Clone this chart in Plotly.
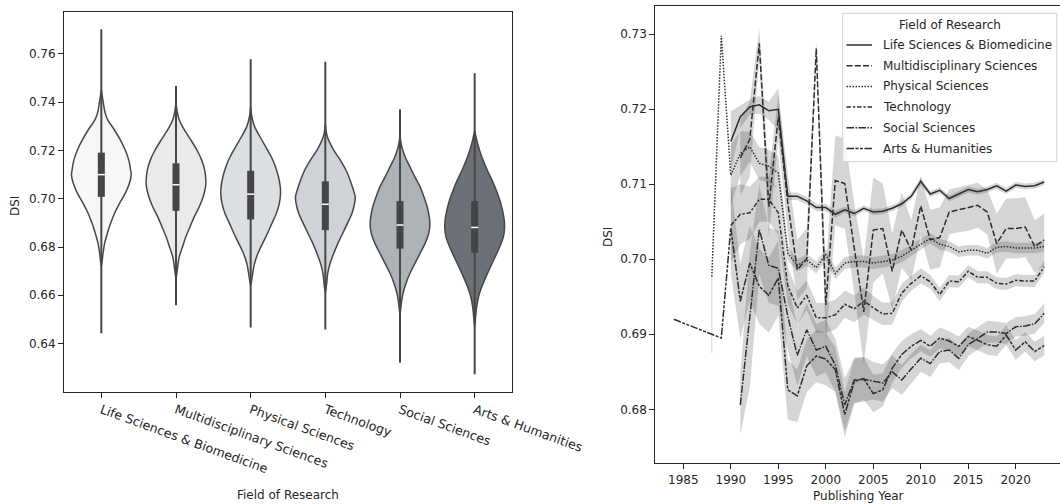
import plotly.graph_objects as go

W, H = 1060, 504

# ---------------- Left panel: distribution of DSI per field ----------------
fields = ["Life Sciences & Biomedicine", "Multidisciplinary Sciences", "Physical Sciences",
          "Technology", "Social Sciences", "Arts & Humanities"]
violin_colors = ["#f6f7f8", "#e9eaec", "#dcdfe2", "#cfd2d6", "#aeb3b8", "#6b7177"]

# density outline (DSI level, relative half-width; 1 = widest)
life_levels = [0.6720, 0.6773, 0.6815, 0.6856, 0.6898, 0.6939, 0.6981, 0.7022, 0.7064, 0.7098,
               0.7119, 0.7160, 0.7202, 0.7243, 0.7285, 0.7326, 0.7354, 0.7395, 0.7450]
life_width = [0, .056, .11, .20, .31, .44, .61, .80, .94, 1.0, .98, .92, .80, .64, .44, .22, .13, .07, 0]

multi_levels = [0.6670, 0.6718, 0.6760, 0.6801, 0.6842, 0.6884, 0.6925, 0.6967, 0.7008, 0.7050,
                0.7077, 0.7119, 0.7160, 0.7202, 0.7243, 0.7285, 0.7326, 0.7361, 0.7400]
multi_width = [0, .056, .11, .22, .33, .47, .61, .78, .91, .99, 1.0, .96, .86, .70, .50, .28, .11, .04, 0]

phys_levels = [0.6640, 0.6690, 0.6732, 0.6773, 0.6815, 0.6856, 0.6898, 0.6939, 0.6981, 0.7022,
               0.7050, 0.7091, 0.7133, 0.7174, 0.7216, 0.7257, 0.7299, 0.7340, 0.7380]
phys_width = [0, .067, .13, .24, .40, .56, .71, .86, .96, 1.0, .99, .93, .83, .69, .50, .31, .13, .04, 0]

tech_levels = [0.6610, 0.6649, 0.6690, 0.6732, 0.6773, 0.6815, 0.6856, 0.6898, 0.6939, 0.6981,
               0.7008, 0.7036, 0.7077, 0.7119, 0.7160, 0.7202, 0.7243, 0.7271, 0.7310]
tech_width = [0, .044, .078, .16, .28, .42, .58, .74, .89, .98, 1.0, .94, .83, .69, .50, .28, .11, .04, 0]

soc_levels = [0.6520, 0.6566, 0.6607, 0.6649, 0.6690, 0.6732, 0.6773, 0.6815, 0.6856, 0.6891,
              0.6925, 0.6967, 0.7008, 0.7050, 0.7091, 0.7133, 0.7174, 0.7216, 0.7260]
soc_width = [0, .044, .10, .20, .33, .50, .67, .84, .96, 1.0, .98, .91, .80, .67, .50, .33, .17, .06, 0]

arts_levels = [0.6470, 0.6511, 0.6552, 0.6594, 0.6635, 0.6677, 0.6718, 0.6760, 0.6801, 0.6842,
               0.6877, 0.6912, 0.6953, 0.6995, 0.7036, 0.7077, 0.7119, 0.7160, 0.7202, 0.7243, 0.7280]
arts_width = [0, .033, .067, .13, .24, .38, .53, .69, .84, .96, 1.0, .99, .93, .84, .72, .58, .42, .28,
              .16, .07, 0]

dsi_min = [0.6442, 0.6559, 0.6466, 0.6458, 0.6320, 0.6273]
dsi_q1 = [0.7008, 0.6950, 0.6914, 0.6870, 0.6793, 0.6776]
dsi_median = [0.7100, 0.7058, 0.7019, 0.6977, 0.6891, 0.6881]
dsi_q3 = [0.7191, 0.7147, 0.7116, 0.7072, 0.6990, 0.6990]
dsi_max = [0.7702, 0.7467, 0.7578, 0.7568, 0.7371, 0.7520]

# ---------------- Right panel: mean DSI per publishing year ----------------
life_years = list(range(1990, 2024))
life_mean = [0.7157, 0.7190, 0.7203, 0.7206, 0.7198, 0.7200, 0.7084, 0.7084, 0.7078, 0.7069,
             0.7069, 0.7060, 0.7066, 0.7061, 0.7068, 0.7063, 0.7064, 0.7068, 0.7074, 0.7084,
             0.7104, 0.7087, 0.7092, 0.7081, 0.7087, 0.7093, 0.7090, 0.7093, 0.7098, 0.7091,
             0.7099, 0.7097, 0.7098, 0.7103]
life_ci = [0.004, 0.0015, 0.001, 0.0012, 0.0012, 0.0028, 0.0005, 0.0005, 0.0005, 0.0005,
           0.0005, 0.0005, 0.0004, 0.0004, 0.0004, 0.0004, 0.0004, 0.0004, 0.0004, 0.0004,
           0.0005, 0.0004, 0.0004, 0.0004, 0.0004, 0.0004, 0.0004, 0.0004, 0.0004, 0.0004,
           0.0004, 0.0004, 0.0004, 0.0004]

multi_years = list(range(1991, 2024))
multi_mean = [0.7135, 0.7160, 0.7288, 0.7070, 0.7190, 0.7075, 0.6986, 0.7001, 0.7281, 0.6939,
              0.7105, 0.7101, 0.7015, 0.6930, 0.7039, 0.7041, 0.6984, 0.7039, 0.7012, 0.7071,
              0.7026, 0.7029, 0.7063, 0.7066, 0.7068, 0.7072, 0.7063, 0.7021, 0.7041, 0.7041,
              0.7043, 0.7017, 0.7026]
multi_ci = [0.005, 0.005, 0.002, 0.004, 0.003, 0.004, 0.004, 0.004, 0.001, 0.005,
            0.006, 0.006, 0.006, 0.007, 0.007, 0.006, 0.005, 0.005, 0.004, 0.004,
            0.004, 0.004, 0.003, 0.003, 0.003, 0.003, 0.003, 0.004, 0.004, 0.004,
            0.004, 0.0035, 0.0035]

phys_years = list(range(1988, 2024))
phys_mean = [0.6977, 0.7298, 0.7112, 0.7141, 0.7150, 0.7128, 0.7124, 0.7115, 0.7008, 0.6992,
             0.6999, 0.6989, 0.7006, 0.6981, 0.6995, 0.6997, 0.6997, 0.6995, 0.6997, 0.6999,
             0.7004, 0.7012, 0.7020, 0.7028, 0.7020, 0.7017, 0.7010, 0.7012, 0.7012, 0.7008,
             0.7016, 0.7017, 0.7015, 0.7015, 0.7015, 0.7017]
phys_ci = [(0.0102, 0.0), None, 0.004, 0.003, 0.002, 0.0022, 0.0022, 0.0022, 0.001, 0.0008,
           0.0008, 0.0008, 0.0008, 0.0008, 0.0008, 0.0008, 0.0008, 0.0008, 0.0008, 0.0008,
           0.0008, 0.0008, 0.0007, 0.0007, 0.0007, 0.0007, 0.0007, 0.0007, 0.0007, 0.0007,
           0.0007, 0.0007, 0.0007, 0.0007, 0.0007, 0.0007]

tech_years = list(range(1990, 2024))
tech_mean = [0.7045, 0.7060, 0.7062, 0.7080, 0.7080, 0.7062, 0.6965, 0.6935, 0.6952, 0.6922,
             0.6922, 0.6926, 0.6940, 0.6934, 0.6944, 0.6935, 0.6927, 0.6928, 0.6955, 0.6968,
             0.6978, 0.6970, 0.6953, 0.6971, 0.6970, 0.6984, 0.6976, 0.6976, 0.6968, 0.6967,
             0.6972, 0.6971, 0.6971, 0.6990]
tech_ci = [0.005, 0.004, 0.0035, 0.003, 0.003, 0.003, 0.0025, 0.0022, 0.002, 0.002,
           0.002, 0.002, 0.0018, 0.0018, 0.0018, 0.0016, 0.0015, 0.0015, 0.0012, 0.001,
           0.001, 0.0009, 0.0009, 0.0008, 0.0008, 0.0008, 0.0008, 0.0008, 0.0008, 0.0008,
           0.0008, 0.0008, 0.0008, 0.0008]

soc_years = list(range(1991, 2024))
soc_mean = [0.6806, 0.6919, 0.7040, 0.6992, 0.6988, 0.6924, 0.6872, 0.6906, 0.6879, 0.6884,
            0.6859, 0.6806, 0.6839, 0.6840, 0.6838, 0.6835, 0.6850, 0.6839, 0.6854, 0.6868,
            0.6861, 0.6877, 0.6879, 0.6868, 0.6886, 0.6895, 0.6903, 0.6903, 0.6901, 0.6910,
            0.6911, 0.6914, 0.6928]
soc_ci = [0.004, 0.009, 0.006, 0.005, 0.005, 0.0045, 0.004, 0.0035, 0.0035, 0.0035,
          0.0035, 0.0035, 0.003, 0.003, 0.0025, 0.0025, 0.0022, 0.002, 0.002, 0.0018,
          0.0018, 0.0016, 0.0016, 0.0016, 0.0015, 0.0015, 0.0015, 0.0014, 0.0014, 0.0013,
          0.0013, 0.0013, 0.0013]

arts_years = [1984] + list(range(1989, 2024))
arts_mean = [0.6920, 0.6895, 0.7042, 0.6944, 0.6995, 0.6964, 0.6952, 0.6975, 0.6826, 0.6818,
             0.6858, 0.6871, 0.6867, 0.6853, 0.6793, 0.6837, 0.6841, 0.6821, 0.6826, 0.6855,
             0.6873, 0.6884, 0.6892, 0.6884, 0.6895, 0.6891, 0.6884, 0.6897, 0.6892, 0.6886,
             0.6884, 0.6899, 0.6879, 0.6890, 0.6877, 0.6885]
arts_ci = [None, None, 0.006, 0.005, 0.005, 0.005, 0.005, 0.005, 0.004, 0.0035,
           0.0035, 0.0035, 0.0035, 0.003, 0.003, 0.003, 0.0028, 0.0025, 0.0022, 0.002,
           0.0018, 0.0016, 0.0015, 0.0014, 0.0014, 0.0013, 0.0013, 0.0013, 0.0013, 0.0013,
           0.0013, 0.0013, 0.0013, 0.0013, 0.0013, 0.0013]

line_dashes = ["solid", "6px,2.25px", "1.5px,1.5px", "4.5px,1.9px,2.25px,1.9px",
               "7.5px,1.5px,1.5px,1.5px", "7.5px,1.5px,3px,1.5px,3px,1.5px"]
year_ticks = [1985, 1990, 1995, 2000, 2005, 2010, 2015, 2020]

# ---------------- style ----------------
FONT = "DejaVu Sans"
INK = "#262626"
OUTLINE = "#474747"
LINE = "#2e2e2e"
BAND = "rgba(46,46,46,0.2)"
HALF = 0.4  # max half-width of a violin in category units

fig = go.Figure()

profiles = [(life_levels, life_width), (multi_levels, multi_width), (phys_levels, phys_width),
            (tech_levels, tech_width), (soc_levels, soc_width), (arts_levels, arts_width)]
for i, (lv, wd) in enumerate(profiles):
    xs = [i - HALF * w for w in wd] + [i + HALF * w for w in reversed(wd)]
    ys = list(lv) + list(reversed(lv))
    fig.add_trace(go.Scatter(x=xs, y=ys, mode="lines", fill="toself", fillcolor=violin_colors[i],
                             line=dict(color=OUTLINE, width=1.5, shape="spline", smoothing=0.8),
                             xaxis="x", yaxis="y", hoverinfo="skip", showlegend=False))
    fig.add_trace(go.Scatter(x=[i, i], y=[dsi_min[i], dsi_max[i]], mode="lines",
                             line=dict(color=OUTLINE, width=2), xaxis="x", yaxis="y",
                             hoverinfo="skip", showlegend=False))
    fig.add_trace(go.Scatter(x=[i, i], y=[dsi_q1[i], dsi_q3[i]], mode="lines",
                             line=dict(color="#454545", width=7), xaxis="x", yaxis="y",
                             hoverinfo="skip", showlegend=False))
    fig.add_trace(go.Scatter(x=[i], y=[dsi_median[i]], mode="markers",
                             marker=dict(symbol="line-ew", size=5, color="white",
                                         line=dict(color="white", width=1.5)),
                             xaxis="x", yaxis="y", hoverinfo="skip", showlegend=False))

series = [
    (fields[0], life_years, life_mean, life_ci),
    (fields[1], multi_years, multi_mean, multi_ci),
    (fields[2], phys_years, phys_mean, phys_ci),
    (fields[3], tech_years, tech_mean, tech_ci),
    (fields[4], soc_years, soc_mean, soc_ci),
    (fields[5], arts_years, arts_mean, arts_ci),
]


def bounds(m, c):
    if isinstance(c, tuple):
        return m - c[0], m + c[1]
    return m - c, m + c


# confidence bands
for name, yrs, mean, ci in series:
    runs, cur = [], []
    for y, m, c in zip(yrs, mean, ci):
        if c is None:
            if cur:
                runs.append(cur)
            cur = []
        else:
            lo, hi = bounds(m, c)
            cur.append((y, lo, hi))
    if cur:
        runs.append(cur)
    for run in runs:
        if len(run) == 1:
            y, lo, hi = run[0]
            fig.add_trace(go.Scatter(x=[y, y], y=[lo, hi], mode="lines",
                                     line=dict(color=BAND, width=1), xaxis="x2", yaxis="y2",
                                     hoverinfo="skip", showlegend=False))
        else:
            xs = [r[0] for r in run] + [r[0] for r in reversed(run)]
            ys = [r[2] for r in run] + [r[1] for r in reversed(run)]
            fig.add_trace(go.Scatter(x=xs, y=ys, mode="lines", fill="toself", fillcolor=BAND,
                                     line=dict(width=0), xaxis="x2", yaxis="y2",
                                     hoverinfo="skip", showlegend=False))

# mean lines
for k, (name, yrs, mean, ci) in enumerate(series):
    fig.add_trace(go.Scatter(x=yrs, y=mean, mode="lines", name=name,
                             line=dict(color=LINE, width=1.5, dash=line_dashes[k]),
                             xaxis="x2", yaxis="y2", showlegend=False))


def px(x):
    return x / W


def py(y):
    return 1 - y / H


axis_common = dict(showgrid=False, zeroline=False, ticks="outside", ticklen=5, tickwidth=1,
                   tickcolor=INK, showline=True, linecolor=INK, linewidth=1, automargin=False,
                   fixedrange=True)
tick_font = dict(family=FONT, size=12, color=INK)

X2_LEFT = 1982.05
X2_RIGHT = X2_LEFT + (W - 655.3) / 9.497

fig.update_layout(
    width=W, height=H, template="none",
    margin=dict(l=0, r=0, t=0, b=0),
    paper_bgcolor="white", plot_bgcolor="white",
    font=dict(family=FONT, size=12, color=INK),
    showlegend=False,
    xaxis=dict(domain=[px(64), px(512)], range=[-0.5, 5.5], tickmode="array",
               tickvals=list(range(len(fields))), ticktext=fields, tickangle=20,
               tickfont=dict(family=FONT, size=12.6, color=INK),
               mirror=True, anchor="y", **axis_common),
    yaxis=dict(domain=[py(392), py(12)], range=[0.6199, 0.7774], tickmode="array",
               tickvals=[0.64, 0.66, 0.68, 0.70, 0.72, 0.74, 0.76], tickformat=".2f",
               tickfont=tick_font, mirror=True, anchor="x", **axis_common),
    xaxis2=dict(domain=[px(655.3), 1.0], range=[X2_LEFT, X2_RIGHT], tickmode="array",
                tickvals=year_ticks, tickfont=tick_font, mirror=True, anchor="y2", **axis_common),
    yaxis2=dict(domain=[py(463.3), py(6)], range=[0.6728, 0.73377], tickmode="array",
                tickvals=[0.68, 0.69, 0.70, 0.71, 0.72, 0.73], tickformat=".2f",
                tickfont=tick_font, mirror=False, anchor="x2", **axis_common),
)

annotations = [
    dict(text="DSI", x=px(15), y=py(206), textangle=-90),
    dict(text="DSI", x=px(608), y=py(237), textangle=-90),
    dict(text="Field of Research", x=px(288), y=py(495)),
    dict(text="Publishing Year", x=px(858), y=py(496)),
]

# legend (drawn by hand to match the matplotlib layout)
LEG_L, LEG_T, LEG_R, LEG_B = 842.7, 13.3, 1056.7, 161.7
shapes = [dict(type="rect", xref="paper", yref="paper", x0=px(LEG_L), x1=px(LEG_R),
               y0=py(LEG_B), y1=py(LEG_T), fillcolor="rgba(255,255,255,0.8)",
               line=dict(color="#d3d3d3", width=1), layer="above")]
annotations.append(dict(text="Field of Research", x=px((LEG_L + LEG_R) / 2), y=py(25)))
for k, name in enumerate(fields):
    row = 45 + k * 20.7
    shapes.append(dict(type="line", xref="paper", yref="paper", x0=px(846.5), x1=px(872),
                       y0=py(row), y1=py(row), layer="above",
                       line=dict(color=LINE, width=1.5, dash=line_dashes[k])))
    annotations.append(dict(text=name, x=px(880.5), y=py(row), xanchor="left"))

for a in annotations:
    a.setdefault("xanchor", "center")
    a.update(xref="paper", yref="paper", yanchor="middle", showarrow=False,
             font=dict(family=FONT, size=12, color=INK))

fig.update_layout(annotations=annotations, shapes=shapes)
fig.write_html("out.html", config={"displayModeBar": False, "staticPlot": True},
               post_script="document.body.style.margin='0px';")
